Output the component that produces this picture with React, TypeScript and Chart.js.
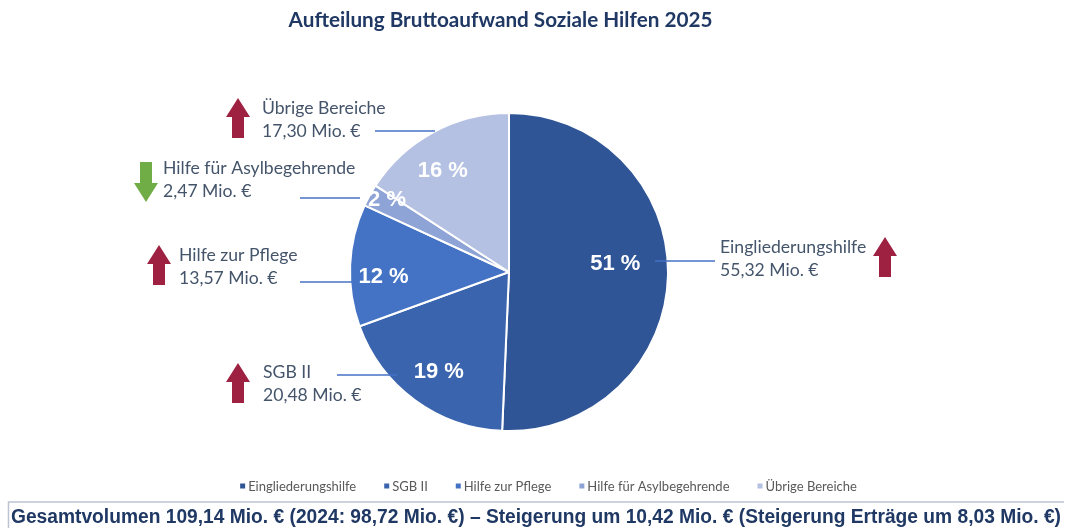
import React, { useEffect, useRef } from "react";
import { Chart, registerables } from "chart.js";

Chart.register(...registerables);

// ---- data ----
const categories = [
  "Eingliederungshilfe",
  "SGB II",
  "Hilfe zur Pflege",
  "Hilfe für Asylbegehrende",
  "Übrige Bereiche",
];
const values = [55.32, 20.48, 13.57, 2.47, 17.3];
const amountLabels = ["55,32 Mio. €", "20,48 Mio. €", "13,57 Mio. €", "2,47 Mio. €", "17,30 Mio. €"];
const trends = ["up", "up", "up", "down", "up"];
const titleText = "Aufteilung Bruttoaufwand Soziale Hilfen 2025";
const footerText =
  "Gesamtvolumen 109,14 Mio. € (2024: 98,72 Mio. €) – Steigerung um 10,42 Mio. € (Steigerung Erträge um 8,03 Mio. €)";

// ---- styles ----
const sliceColors = ["#2F5597", "#3A64AE", "#4472C4", "#8FA4D6", "#B5C1E3"];
const navy = "#1F3864";
const calloutColor = "#44546A";
const leaderColor = "#4472C4";
const upColor = "#9E2142";
const downColor = "#70AD47";
const labelRadius = [0.67, 0.77, 0.79, 0.89, 0.76];
const labelAngleShift = [-5.5, -1.3, -4.7, 1.6, -4.7];

// callout annotation layout (text anchor, leader line, arrow)
const calloutLayout = [
  { tx: 720, ty: 247, ly: 261, lx1: 715, lx2: 655, ax: 885, ay: 237 },
  { tx: 263, ty: 372, ly: 375, lx1: 337, lx2: 397, ax: 238, ay: 363 },
  { tx: 179, ty: 255, ly: 282, lx1: 300, lx2: 352, ax: 159, ay: 245 },
  { tx: 163, ty: 168, ly: 198, lx1: 300, lx2: 360, ax: 146, ay: 162 },
  { tx: 262, ty: 108, ly: 131, lx1: 375, lx2: 435, ax: 238, ay: 98 },
];

const total = values.reduce((a, b) => a + b, 0);
const percentLabels = values.map((v) => Math.round((v / total) * 100) + " %");

function drawArrow(ctx: CanvasRenderingContext2D, cx: number, top: number, dir: string, color: string) {
  const w = 24, h = 40, head = 19, shaft = 12;
  ctx.save();
  ctx.fillStyle = color;
  ctx.beginPath();
  if (dir === "up") {
    ctx.moveTo(cx, top);
    ctx.lineTo(cx + w / 2, top + head);
    ctx.lineTo(cx + shaft / 2, top + head);
    ctx.lineTo(cx + shaft / 2, top + h);
    ctx.lineTo(cx - shaft / 2, top + h);
    ctx.lineTo(cx - shaft / 2, top + head);
    ctx.lineTo(cx - w / 2, top + head);
  } else {
    ctx.moveTo(cx - shaft / 2, top);
    ctx.lineTo(cx + shaft / 2, top);
    ctx.lineTo(cx + shaft / 2, top + h - head);
    ctx.lineTo(cx + w / 2, top + h - head);
    ctx.lineTo(cx, top + h);
    ctx.lineTo(cx - w / 2, top + h - head);
    ctx.lineTo(cx - shaft / 2, top + h - head);
  }
  ctx.closePath();
  ctx.fill();
  ctx.restore();
}

const annotationPlugin = {
  id: "annotations",
  afterDraw(chart: any) {
    const ctx: CanvasRenderingContext2D = chart.ctx;
    const meta = chart.getDatasetMeta(0);
    ctx.save();

    // title
    ctx.fillStyle = navy;
    ctx.font = "bold 20.7px Lato, 'Open Sans', sans-serif";
    ctx.textAlign = "center";
    ctx.textBaseline = "middle";
    ctx.fillText(titleText, 500.5, 20);

    // percent labels inside slices
    ctx.font = "bold 22px 'Liberation Sans', Arial, sans-serif";
    ctx.fillStyle = "#FFFFFF";
    meta.data.forEach((arc: any, i: number) => {
      const p = arc.getProps(["x", "y", "startAngle", "endAngle", "outerRadius"], true);
      const a = (p.startAngle + p.endAngle) / 2 + (labelAngleShift[i] * Math.PI) / 180;
      const r = p.outerRadius * labelRadius[i];
      ctx.fillText(percentLabels[i], p.x + r * Math.cos(a), p.y + r * Math.sin(a));
    });

    // callouts
    ctx.textAlign = "left";
    ctx.font = "17.6px Lato, 'Open Sans', sans-serif";
    categories.forEach((c, i) => {
      const L = calloutLayout[i];
      ctx.strokeStyle = leaderColor;
      ctx.lineWidth = 1.6;
      ctx.beginPath();
      ctx.moveTo(L.lx1, L.ly);
      ctx.lineTo(L.lx2, L.ly);
      ctx.stroke();
      ctx.fillStyle = calloutColor;
      ctx.fillText(c, L.tx, L.ty);
      ctx.fillText(amountLabels[i], L.tx, L.ty + 23);
      drawArrow(ctx, L.ax, L.ay, trends[i], trends[i] === "up" ? upColor : downColor);
    });

    // legend
    ctx.font = "13px Lato, 'Open Sans', sans-serif";
    const box = 5, gapBox = 3, gapItem = 28;
    const widths = categories.map((c) => box + gapBox + ctx.measureText(c).width);
    const totalW = widths.reduce((a, b) => a + b, 0) + gapItem * (categories.length - 1);
    let x = 548.5 - totalW / 2;
    const ly = 486;
    categories.forEach((c, i) => {
      ctx.fillStyle = sliceColors[i];
      ctx.fillRect(x, ly - box / 2, box, box);
      ctx.fillStyle = "#595959";
      ctx.fillText(c, x + box + gapBox, ly + 0.5);
      x += widths[i] + gapItem;
    });

    // footer box
    ctx.strokeStyle = "#BCC4D4";
    ctx.lineWidth = 1.5;
    ctx.beginPath();
    ctx.moveTo(8.5, 540);
    ctx.lineTo(8.5, 502);
    ctx.lineTo(1064, 502);
    ctx.stroke();

    // footer text (narrow bold, fit to width)
    ctx.font = "bold 20px 'Liberation Sans Narrow', 'Arial Narrow', 'Liberation Sans', Arial, sans-serif";
    ctx.fillStyle = navy;
    const fw = ctx.measureText(footerText).width;
    const target = 1050;
    ctx.save();
    ctx.translate(11, 517);
    ctx.scale(target / fw, 1);
    ctx.fillText(footerText, 0, 0);
    ctx.restore();

    ctx.restore();
  },
};

export default function App() {
  const ref = useRef<HTMLCanvasElement | null>(null);
  useEffect(() => {
    if (!ref.current) return;
    const chart = new Chart(ref.current, {
      type: "pie",
      data: {
        labels: categories,
        datasets: [
          {
            data: values,
            backgroundColor: sliceColors,
            borderColor: "#FFFFFF",
            borderWidth: 2,
            radius: 159,
          } as any,
        ],
      },
      options: {
        responsive: false,
        animation: false,
        events: [],
        layout: { padding: { left: 0, right: 48, top: 113, bottom: 97 } },
        plugins: {
          legend: { display: false },
          title: { display: false },
          tooltip: { enabled: false },
        },
      },
      plugins: [annotationPlugin],
    });
    return () => chart.destroy();
  }, []);
  return (
    <div style={{ position: "fixed", left: 0, top: 0, width: 1066, height: 528, background: "#fff" }}>
      <canvas ref={ref} width={1066} height={528} style={{ display: "block" }} />
    </div>
  );
}
